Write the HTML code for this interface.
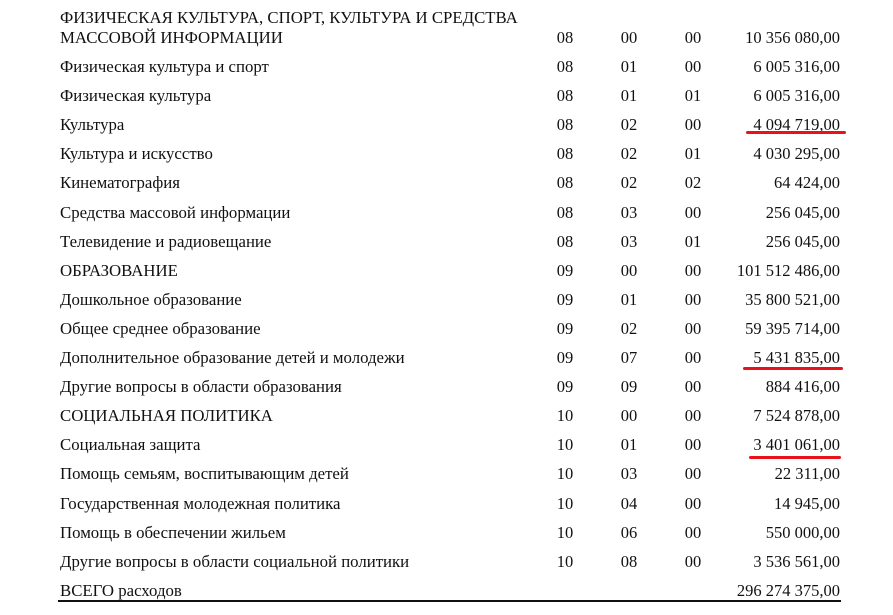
<!DOCTYPE html>
<html><head><meta charset="utf-8"><style>
body{margin:0;width:893px;height:615px;background:#fff;position:relative;overflow:hidden;font-family:"Liberation Serif",serif;font-size:16.5px;color:#111}
.t{position:absolute;line-height:18px;white-space:nowrap;font-size:16.8px}
.n{position:absolute;line-height:18px;width:140px;text-align:right;left:700px}
.c{position:absolute;line-height:18px;width:40px;text-align:center}
.r{position:absolute;height:3px;background:#e8121b;border-radius:2px}
</style></head><body>
<div class="t" style="left:60px;top:9px">ФИЗИЧЕСКАЯ КУЛЬТУРА, СПОРТ, КУЛЬТУРА И СРЕДСТВА</div>
<div class="t" style="left:60px;top:29px">МАССОВОЙ ИНФОРМАЦИИ</div>
<div class="c" style="left:545px;top:29px">08</div><div class="c" style="left:609px;top:29px">00</div><div class="c" style="left:673px;top:29px">00</div><div class="n" style="top:29px">10 356 080,00</div>
<div id="rows"></div>
<script>
var d=[
["Физическая культура и спорт","08","01","00","6 005 316,00"],
["Физическая культура","08","01","01","6 005 316,00"],
["Культура","08","02","00","4 094 719,00"],
["Культура и искусство","08","02","01","4 030 295,00"],
["Кинематография","08","02","02","64 424,00"],
["Средства массовой информации","08","03","00","256 045,00"],
["Телевидение и радиовещание","08","03","01","256 045,00"],
["ОБРАЗОВАНИЕ","09","00","00","101 512 486,00"],
["Дошкольное образование","09","01","00","35 800 521,00"],
["Общее среднее образование","09","02","00","59 395 714,00"],
["Дополнительное образование детей и молодежи","09","07","00","5 431 835,00"],
["Другие вопросы в области образования","09","09","00","884 416,00"],
["СОЦИАЛЬНАЯ ПОЛИТИКА","10","00","00","7 524 878,00"],
["Социальная защита","10","01","00","3 401 061,00"],
["Помощь семьям, воспитывающим детей","10","03","00","22 311,00"],
["Государственная молодежная политика","10","04","00","14 945,00"],
["Помощь в обеспечении жильем","10","06","00","550 000,00"],
["Другие вопросы в области социальной политики","10","08","00","3 536 561,00"],
["ВСЕГО расходов","","","","296 274 375,00"]];
var h="";
d.forEach(function(r,i){var y=Math.round(58+i*29.1);
h+='<div class="t" style="left:60px;top:'+y+'px">'+r[0]+'</div>';
h+='<div class="c" style="left:545px;top:'+y+'px">'+r[1]+'</div>';
h+='<div class="c" style="left:609px;top:'+y+'px">'+r[2]+'</div>';
h+='<div class="c" style="left:673px;top:'+y+'px">'+r[3]+'</div>';
h+='<div class="n" style="top:'+y+'px">'+r[4]+'</div>';});
document.getElementById("rows").innerHTML=h;
</script>
<div style="position:absolute;left:58px;top:600px;width:783px;height:1.5px;background:#111"></div>
<div class="r" style="left:746px;top:131px;width:100px"></div>
<div class="r" style="left:743px;top:367px;width:100px"></div>
<div class="r" style="left:749px;top:456px;width:92px"></div>
</body></html>
